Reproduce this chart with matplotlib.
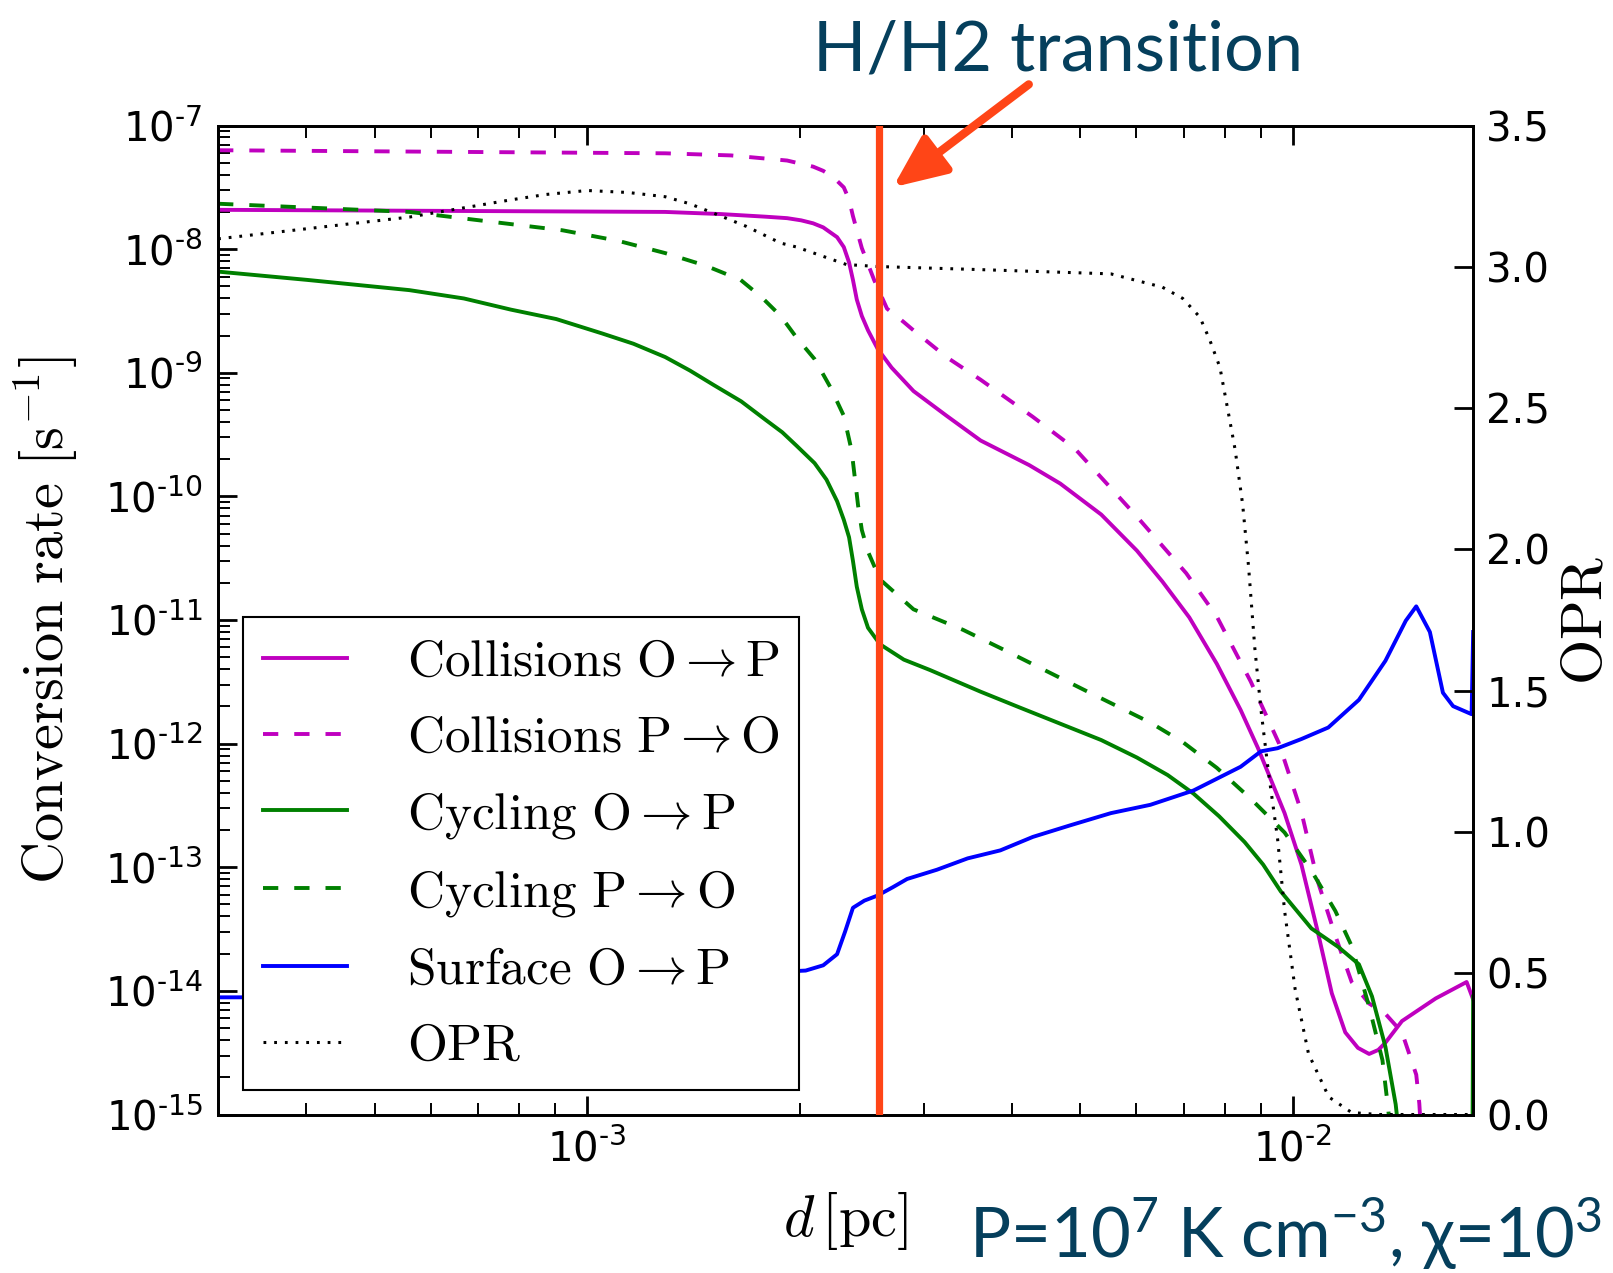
import numpy as np
import matplotlib
matplotlib.use("Agg")
import matplotlib.pyplot as plt
from matplotlib.ticker import LogLocator, NullFormatter

plt.rcParams['mathtext.fontset'] = 'cm'
plt.rcParams['font.family'] = 'DejaVu Sans'
plt.rcParams['lines.scale_dashes'] = False

# ---- data (d in pc, rates in s^-1) ----
# Collisions O -> P
d_col_op = [3.0e-4, 1.29e-3, 1.546e-3, 1.79e-3, 1.92e-3, 2.01e-3, 2.09e-3, 2.16e-3, 2.26e-3, 2.31e-3,
            2.35e-3, 2.38e-3, 2.41e-3, 2.45e-3, 2.50e-3, 2.58e-3, 2.70e-3, 2.90e-3, 3.23e-3, 3.61e-3,
            4.23e-3, 4.68e-3, 5.35e-3, 6.01e-3, 6.53e-3, 7.13e-3, 7.80e-3, 8.43e-3, 8.92e-3, 9.73e-3,
            1.028e-2, 1.084e-2, 1.135e-2, 1.186e-2, 1.236e-2, 1.282e-2, 1.321e-2, 1.352e-2, 1.427e-2, 1.593e-2,
            1.762e-2, 1.80e-2]
r_col_op = [2.08e-8, 2.00e-8, 1.922e-8, 1.83e-8, 1.781e-8, 1.71e-8, 1.618e-8, 1.50e-8, 1.25e-8, 1.04e-8,
            7.81e-9, 5.64e-9, 3.915e-9, 2.88e-9, 2.203e-9, 1.560e-9, 1.10e-9, 7.11e-10, 4.49e-10, 2.83e-10,
            1.79e-10, 1.27e-10, 7.13e-11, 3.64e-11, 2.05e-11, 1.05e-11, 4.42e-12, 1.873e-12, 9.22e-13, 2.74e-13,
            1.05e-13, 3.02e-14, 9.57e-15, 4.62e-15, 3.46e-15, 3.09e-15, 3.33e-15, 3.81e-15, 5.70e-15, 8.69e-15,
            1.18e-14, 8.53e-15]

# Collisions P -> O
d_col_po = [3.0e-4, 1.29e-3, 1.599e-3, 1.92e-3, 2.09e-3, 2.16e-3, 2.23e-3, 2.31e-3, 2.35e-3, 2.38e-3,
            2.45e-3, 2.55e-3, 2.66e-3, 2.81e-3, 2.90e-3, 3.23e-3, 3.61e-3, 4.28e-3, 4.91e-3, 6.01e-3,
            7.06e-3, 7.80e-3, 8.71e-3, 9.55e-3, 1.028e-2, 1.084e-2, 1.148e-2, 1.211e-2, 1.282e-2, 1.352e-2,
            1.427e-2, 1.495e-2, 1.510e-2, 1.525e-2]
r_col_po = [6.31e-8, 5.96e-8, 5.73e-8, 5.21e-8, 4.65e-8, 4.30e-8, 3.84e-8, 3.16e-8, 2.515e-8, 1.85e-8,
            1.02e-8, 5.64e-9, 3.30e-9, 2.568e-9, 2.203e-9, 1.338e-9, 8.78e-10, 4.40e-10, 2.43e-10, 6.86e-11,
            2.388e-11, 1.067e-11, 3.19e-12, 1.01e-12, 2.79e-13, 7.73e-14, 2.80e-14, 1.18e-14, 7.90e-15, 6.52e-15,
            4.62e-15, 2.10e-15, 1.23e-15, 4.9e-16]

# Cycling O -> P
d_cyc_op = [3.0e-4, 4.01e-4, 5.60e-4, 6.69e-4, 7.80e-4, 9.04e-4, 1.05e-3, 1.163e-3, 1.29e-3, 1.398e-3,
            1.51e-3, 1.653e-3, 1.79e-3, 1.890e-3, 1.98e-3, 2.10e-3, 2.183e-3, 2.26e-3, 2.31e-3, 2.35e-3,
            2.38e-3, 2.41e-3, 2.45e-3, 2.50e-3, 2.60e-3, 2.81e-3, 3.06e-3, 3.61e-3, 4.087e-3, 4.68e-3,
            5.35e-3, 6.01e-3, 6.645e-3, 7.23e-3, 7.856e-3, 8.54e-3, 9.073e-3, 9.61e-3, 1.062e-2, 1.159e-2,
            1.240e-2, 1.294e-2, 1.352e-2, 1.398e-2, 1.412e-2, 1.79e-2, 1.80e-2]
r_cyc_op = [6.58e-9, 5.64e-9, 4.66e-9, 3.99e-9, 3.24e-9, 2.72e-9, 2.08e-9, 1.717e-9, 1.34e-9, 1.043e-9,
            7.98e-10, 5.87e-10, 4.16e-10, 3.30e-10, 2.57e-10, 1.858e-10, 1.367e-10, 9.14e-11, 6.47e-11, 4.67e-11,
            3.01e-11, 1.86e-11, 1.22e-11, 8.65e-12, 6.36e-12, 4.78e-12, 3.94e-12, 2.63e-12, 1.975e-12, 1.45e-12,
            1.069e-12, 7.72e-13, 5.57e-13, 3.94e-13, 2.59e-13, 1.60e-13, 1.051e-13, 6.38e-14, 3.20e-14, 2.27e-14,
            1.64e-14, 9.03e-15, 3.53e-15, 1.21e-15, 7.2e-16, 1e-17, 9.0e-15]

# Cycling P -> O
d_cyc_po = [3.0e-4, 5.60e-4, 9.23e-4, 1.106e-3, 1.29e-3, 1.470e-3, 1.65e-3, 1.768e-3, 1.88e-3, 1.98e-3,
            2.10e-3, 2.21e-3, 2.31e-3, 2.37e-3, 2.42e-3, 2.45e-3, 2.50e-3, 2.60e-3, 2.90e-3, 3.41e-3,
            3.94e-3, 5.08e-3, 6.28e-3, 6.98e-3, 7.80e-3, 8.71e-3, 9.73e-3, 1.062e-2, 1.148e-2, 1.211e-2,
            1.282e-2, 1.339e-2, 1.365e-2, 1.380e-2]
r_cyc_po = [2.33e-8, 2.00e-8, 1.42e-8, 1.168e-8, 9.29e-9, 7.37e-9, 5.64e-9, 4.07e-9, 2.88e-9, 1.926e-9,
            1.29e-9, 7.68e-10, 4.49e-10, 2.34e-10, 8.47e-11, 5.35e-11, 3.57e-11, 2.13e-11, 1.22e-11, 8.32e-12,
            5.56e-12, 2.69e-12, 1.48e-12, 1.03e-12, 6.37e-13, 3.59e-13, 1.91e-13, 9.38e-14, 4.44e-14, 2.31e-14,
            7.46e-15, 2.75e-15, 1.08e-15, 4.9e-16]

# Surface O -> P
d_surf = [3.0e-4, 3.31e-4, 2.04e-3, 2.16e-3, 2.26e-3, 2.32e-3, 2.38e-3, 2.47e-3, 2.58e-3, 2.71e-3,
          2.84e-3, 3.13e-3, 3.46e-3, 3.85e-3, 4.28e-3, 4.83e-3, 5.52e-3, 6.28e-3, 7.23e-3, 8.43e-3,
          9.01e-3, 9.51e-3, 1.028e-2, 1.122e-2, 1.240e-2, 1.286e-2, 1.352e-2, 1.445e-2, 1.495e-2, 1.563e-2,
          1.631e-2, 1.686e-2, 1.791e-2, 1.80e-2]
r_surf = [8.87e-15, 8.87e-15, 1.46e-14, 1.61e-14, 1.98e-14, 3.02e-14, 4.70e-14, 5.37e-14, 5.91e-14, 6.89e-14,
          8.04e-14, 9.55e-14, 1.18e-13, 1.37e-13, 1.76e-13, 2.18e-13, 2.74e-13, 3.20e-13, 4.18e-13, 6.50e-13,
          8.67e-13, 9.18e-13, 1.09e-12, 1.35e-12, 2.26e-12, 3.07e-12, 4.68e-12, 9.88e-12, 1.29e-11, 8.00e-12,
          2.58e-12, 2.01e-12, 1.73e-12, 8.00e-12]

# ortho/para ratio (right axis)
d_opr = [3.0e-4, 5.60e-4, 7.80e-4, 8.745e-4, 1.0e-3, 1.143e-3, 1.29e-3, 1.398e-3, 1.51e-3, 1.681e-3,
         1.88e-3, 1.98e-3, 2.33e-3, 2.58e-3, 3.61e-3, 5.52e-3, 6.53e-3, 6.98e-3, 7.38e-3, 7.62e-3,
         7.88e-3, 8.20e-3, 8.28e-3, 8.486e-3, 8.65e-3, 8.83e-3, 9.01e-3, 9.23e-3, 9.51e-3, 9.73e-3,
         1.007e-2, 1.052e-2, 1.124e-2, 1.211e-2, 1.321e-2, 1.80e-2]
opr = [3.099, 3.176, 3.237, 3.256, 3.270, 3.263, 3.248, 3.223, 3.190, 3.143,
       3.084, 3.070, 3.008, 3.001, 2.990, 2.975, 2.928, 2.888, 2.822, 2.742,
       2.644, 2.411, 2.353, 2.159, 1.941, 1.650, 1.431, 1.213, 0.976, 0.721,
       0.444, 0.215, 0.062, 0.007, 0.0, 0.0]

d_transition = 2.59e-3   # H/H2 transition

legend_labels = [r'$\mathrm{Collisions}\ \mathrm{O}\rightarrow\mathrm{P}$',
                 r'$\mathrm{Collisions}\ \mathrm{P}\rightarrow\mathrm{O}$',
                 r'$\mathrm{Cycling}\ \mathrm{O}\rightarrow\mathrm{P}$',
                 r'$\mathrm{Cycling}\ \mathrm{P}\rightarrow\mathrm{O}$',
                 r'$\mathrm{Surface}\ \mathrm{O}\rightarrow\mathrm{P}$',
                 r'$\mathrm{OPR}$']

y_exps = [-15, -14, -13, -12, -11, -10, -9, -8, -7]
x_exps = [-3, -2]
opr_ticks = [0.0, 0.5, 1.0, 1.5, 2.0, 2.5, 3.0, 3.5]
opr_ticklabels = ['0.0', '0.5', '1.0', '1.5', '2.0', '2.5', '3.0', '3.5']


def pow_label(e):
    # short hyphen in the exponent, like the original plot
    return '$\\mathregular{10^{\u2010%d}}$' % (-e)


# ---- figure ----
navy = '#053F5C'
red = '#FF4517'
dash = (0, (11, 11.5))
dot = (0, (2, 5.7))
lw = 2.8

fig = plt.figure(figsize=(16.13, 12.73), dpi=100)
ax = fig.add_axes([0.1352, 0.1245, 0.7781, 0.7769])
ax2 = ax.twinx()

l1, = ax.plot(d_col_op, r_col_op, color='m', lw=lw)
l2, = ax.plot(d_col_po, r_col_po, color='m', lw=lw, ls=dash)
l3, = ax.plot(d_cyc_op, r_cyc_op, color='g', lw=lw)
l4, = ax.plot(d_cyc_po, r_cyc_po, color='g', lw=lw, ls=dash)
l5, = ax.plot(d_surf, r_surf, color='b', lw=lw)
l6, = ax2.plot(d_opr, opr, color='k', lw=2.2, ls=dot)

ax.set_xscale('log')
ax.set_yscale('log')
ax.set_xlim(3.0e-4, 1.8e-2)
ax.set_ylim(1e-15, 1e-7)
ax2.set_ylim(0, 3.5)

ax.set_yticks([10.0 ** e for e in y_exps])
ax.set_yticklabels([pow_label(e) for e in y_exps])
ax.set_xticks([10.0 ** e for e in x_exps])
ax.set_xticklabels([pow_label(e) for e in x_exps])
ax.yaxis.set_minor_locator(LogLocator(base=10, subs=np.arange(2, 10), numticks=100))
ax.xaxis.set_minor_locator(LogLocator(base=10, subs=np.arange(2, 10), numticks=100))
ax.yaxis.set_minor_formatter(NullFormatter())
ax.xaxis.set_minor_formatter(NullFormatter())
ax2.set_yticks(opr_ticks)
ax2.set_yticklabels(opr_ticklabels)

ax.tick_params(which='major', direction='in', length=14, width=2, labelsize=29)
ax.tick_params(which='minor', direction='in', length=8.5, width=1.4)
ax.tick_params(axis='x', which='both', top=True, pad=11)
ax.tick_params(axis='y', which='both', right=False, pad=11)
ax2.tick_params(axis='y', direction='in', length=14, width=2, labelsize=29, pad=9.5)
for a in (ax, ax2):
    for s in a.spines.values():
        s.set_linewidth(2)

ax.set_xlabel(r'$d\,[\mathrm{pc}]$', fontsize=42, labelpad=14)
ax.set_ylabel(r'$\mathrm{Conversion\ rate\ [s^{-1}]}$', fontsize=42, labelpad=18)
ax2.set_ylabel(r'$\mathrm{OPR}$', fontsize=42, labelpad=5)

# H/H2 transition marker
ax2.axvline(d_transition, color=red, lw=5.2, zorder=5)
ax2.annotate('', xy=(0.5536, 0.8529), xycoords='figure fraction',
             xytext=(0.6378, 0.9337), textcoords='figure fraction',
             arrowprops=dict(arrowstyle='-|>,head_length=0.8,head_width=0.35',
                             color=red, lw=6, mutation_scale=40,
                             shrinkA=0, shrinkB=0))

leg = ax2.legend([l1, l2, l3, l4, l5, l6], legend_labels, loc='lower left',
                 bbox_to_anchor=(0.0199, 0.0243), borderaxespad=0, fontsize=37,
                 handlelength=1.65, handletextpad=1.16, labelspacing=0.51,
                 borderpad=0.38, fancybox=False, framealpha=1, edgecolor='k')
leg.get_frame().set_linewidth(1.5)
leg.set_zorder(10)

fig.text(0.5038, 0.945, 'H/H2 transition', fontsize=50.5, color=navy,
         family=['Lato', 'DejaVu Sans'], ha='left', va='baseline')
fig.text(0.601, 0.0118,
         'P=10$\\mathregular{^{7}}$ K cm$\\mathregular{^{-3}}$, \u03c7=10$\\mathregular{^{3}}$',
         fontsize=49.5, color=navy, family=['Lato', 'DejaVu Sans'],
         ha='left', va='baseline')

fig.savefig('out.png', dpi=100)
